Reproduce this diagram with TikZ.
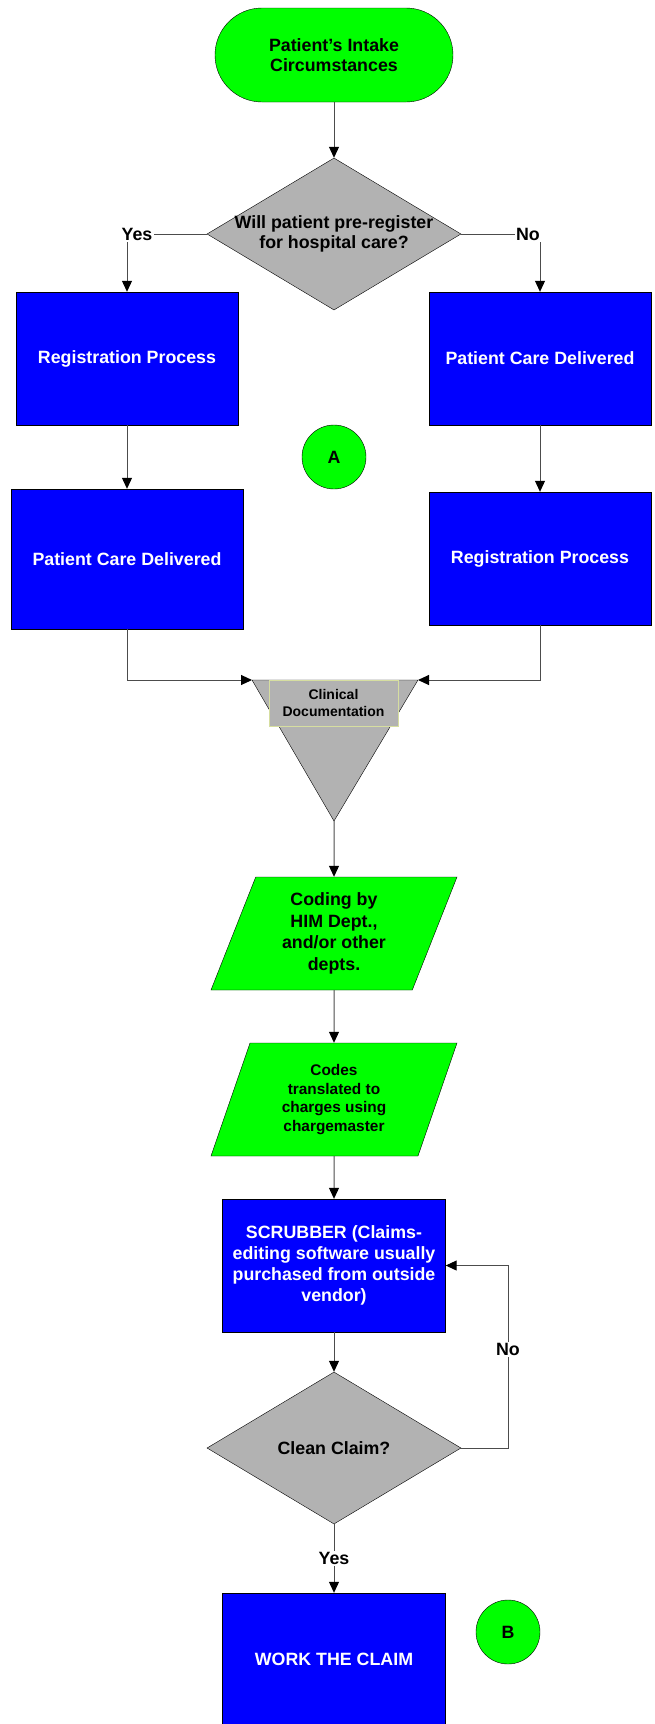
\documentclass[tikz,border=0pt]{standalone}
\usepackage{fontspec}
\setmainfont{Liberation Sans}
\usetikzlibrary{arrows.meta, shapes.geometric}

\definecolor{flowgreen}{RGB}{0,255,0}
\definecolor{flowblue}{RGB}{0,0,255}
\definecolor{flowgray}{RGB}{178,178,178}
\definecolor{labelrim}{RGB}{214,222,160}

\begin{document}
\begin{tikzpicture}[
    x=1pt, y=-1pt,
    % Styles
    node start/.style={rectangle, rounded corners=47pt, fill=flowgreen, draw=black, minimum width=238pt, minimum height=94pt, align=center, font=\fontsize{17.8}{20.5}\selectfont\bfseries},
    node ask/.style={diamond, fill=flowgray, draw=black, inner sep=0pt, minimum width=254pt, minimum height=152pt},
    node task/.style={rectangle, fill=flowblue, draw=black, minimum width=222pt, minimum height=133pt, align=center, text=white, font=\fontsize{17.8}{21}\selectfont\bfseries},
    node data/.style={trapezium, trapezium left angle=63, trapezium right angle=117, trapezium stretches body, fill=flowgreen, draw=black, minimum width=246pt, minimum height=113pt, align=center},
    node link/.style={circle, fill=flowgreen, draw=black, minimum size=64pt, inner sep=0pt, font=\fontsize{17.8}{21}\selectfont\bfseries},
    txt dark/.style={align=center, font=\fontsize{17.8}{20.5}\selectfont\bfseries},
    txt tag/.style={fill=white, text=black, inner sep=1.5pt, font=\fontsize{17.8}{21}\selectfont\bfseries},
    edge flow/.style={-{Triangle[length=11pt, width=10pt, color=black]}, black!70, line width=1pt} % connectors
]

    % =========================================================================
    % 1. Intake and first decision
    % =========================================================================
    \useasboundingbox (0,0) rectangle (655,1724);
    \node[node start] (start) at (334,55) {Patient’s Intake\\Circumstances};
    \node[node ask] (ask) at (334,234) {};
    \node[txt dark] (ask text) at (ask) {Will patient pre-register\\for hospital care?};

    % =========================================================================
    % 2. Both branches
    % =========================================================================
    % Left branch (pre-registered)
    \node[node task] (reg1) at (127,358.5) {Registration Process};
    \node[node task, minimum width=232pt, minimum height=140pt] (care1) at (127,559) {Patient Care Delivered};
    % Right branch (not pre-registered)
    \node[node task] (care2) at (540,358.5) {Patient Care Delivered};
    \node[node task] (reg2) at (540,558.5) {Registration Process};
    % Connector A
    \node[node link] (link a) at (334,457) {A};

    % =========================================================================
    % 3. Clinical documentation (inverted triangle)
    % =========================================================================
    \coordinate (tri left) at (252,680);
    \coordinate (tri right) at (418,680);
    \coordinate (tri apex) at (334,821);
    \draw[fill=flowgray, draw=black] (tri left) -- (tri right) -- (tri apex) -- cycle;
    \node[rectangle, fill=flowgray, draw=labelrim, minimum width=129pt, minimum height=46pt, align=center, font=\fontsize{14}{17}\selectfont\bfseries] (clin) at (333.5,703) {Clinical\\Documentation};

    % =========================================================================
    % 4. Coding, scrubbing and claim check
    % =========================================================================
    \node[node data, font=\fontsize{17.8}{21.5}\selectfont\bfseries] (code1) at (334,933.5) {Coding by\\HIM Dept.,\\and/or other\\depts.};
    \node[node data, font=\fontsize{15.4}{18.5}\selectfont\bfseries] (code2) at (334,1099.5) {Codes\\translated to\\charges using\\chargemaster};
    \node[node task, minimum width=223pt] (scrub) at (334,1265.5) {SCRUBBER (Claims-\\editing software usually\\purchased from outside\\vendor)};
    \node[node ask] (clean) at (334,1448) {};
    \node[txt dark] (clean text) at (clean) {Clean Claim?};
    \node[node task, minimum width=223pt, minimum height=132pt] (work) at (334,1659) {WORK THE CLAIM};
    % Connector B
    \node[node link] (link b) at (508,1632) {B};

    % =========================================================================
    % 5. Connectors
    % =========================================================================
    \draw[edge flow] (start) -- (ask);
    \draw[edge flow] (ask.west) -| node[txt tag, xshift=10pt] {Yes} (reg1.north);
    \draw[edge flow] (ask.east) -| node[txt tag, xshift=-12pt] {No} (care2.north);
    \draw[edge flow] (reg1) -- (care1);
    \draw[edge flow] (care2) -- (reg2);
    \draw[edge flow] (care1.south) |- (tri left);
    \draw[edge flow] (reg2.south) |- (tri right);
    \draw[edge flow] (tri apex) -- (code1);
    \draw[edge flow] (code1) -- (code2);
    \draw[edge flow] (code2) -- (scrub);
    \draw[edge flow] (scrub) -- (clean);
    \draw[edge flow] (clean) -- node[txt tag, midway] {Yes} (work);
    % Rework loop
    \coordinate (loop) at (508,1448);
    \draw[edge flow] (clean.east) -- (loop) |- node[txt tag, pos=0.27] {No} (scrub.east);

\end{tikzpicture}
\end{document}
